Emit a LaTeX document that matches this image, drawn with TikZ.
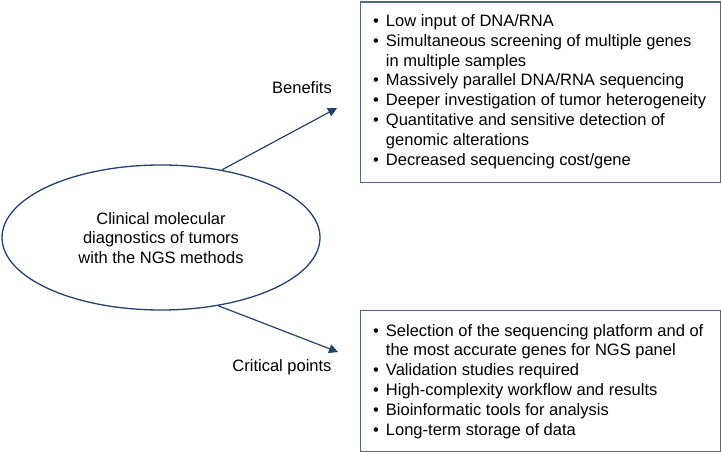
\documentclass[tikz,border=0pt]{standalone}
\usepackage{fontspec}
\setmainfont{Liberation Sans}
\usetikzlibrary{arrows.meta,shapes.geometric}
\definecolor{linec}{RGB}{38,66,102}
\definecolor{boxc}{RGB}{84,104,130}
\tikzset{
  txt/.style={font=\fontsize{16.5}{19.8}\selectfont, inner sep=0pt},
  listtxt/.style={txt, anchor=base west, align=left},
  box/.style={draw=boxc, line width=1.3pt, inner sep=0pt},
  arr/.style={draw=linec, line width=1.2pt, -{Triangle[length=9pt,width=9pt]}},
}
\newcommand{\bl}{\textbullet}
\begin{document}
\begin{tikzpicture}[x=1pt,y=-1pt]
\useasboundingbox (0,0) rectangle (721,452);
% ellipse
\node[ellipse, draw=linec, line width=1.3pt, minimum width=318pt, minimum height=145pt, inner sep=0pt] (e) at (161,237.5) {};
\node[txt, align=center] (etext) at (161,238) {Clinical molecular\\diagnostics of tumors\\with the NGS methods};
% boxes
\node[box, minimum width=359.5pt, minimum height=180.5pt, anchor=north west] (bbox) at (360,1.5) {};
\node[box, minimum width=359.5pt, minimum height=140.5pt, anchor=north west] (cbox) at (360,310) {};
% list texts
\node[listtxt] (btext) at (373,26.5) {\begin{tabular}[t]{@{}l@{\hspace{7pt}}l@{}}
\bl & Low input of DNA/RNA\\
\bl & Simultaneous screening of multiple genes\\
 & in multiple samples\\
\bl & Massively parallel DNA/RNA sequencing\\
\bl & Deeper investigation of tumor heterogeneity\\
\bl & Quantitative and sensitive detection of\\
 & genomic alterations\\
\bl & Decreased sequencing cost/gene
\end{tabular}};
\node[listtxt] (ctext) at (373,336) {\begin{tabular}[t]{@{}l@{\hspace{7pt}}l@{}}
\bl & Selection of the sequencing platform and of\\
 & the most accurate genes for NGS panel\\
\bl & Validation studies required\\
\bl & High-complexity workflow and results\\
\bl & Bioinformatic tools for analysis\\
\bl & Long-term storage of data
\end{tabular}};
% labels
\node[txt] (lb) at (302,88) {Benefits};
\node[txt] (lc) at (282,367) {Critical points};
% arrows
\coordinate (tb) at (337,108);
\coordinate (tc) at (338,352);
\draw[arr] (e.48.6) -- (tb);
\draw[arr] (e.-50.5) -- (tc);
\end{tikzpicture}
\end{document}
